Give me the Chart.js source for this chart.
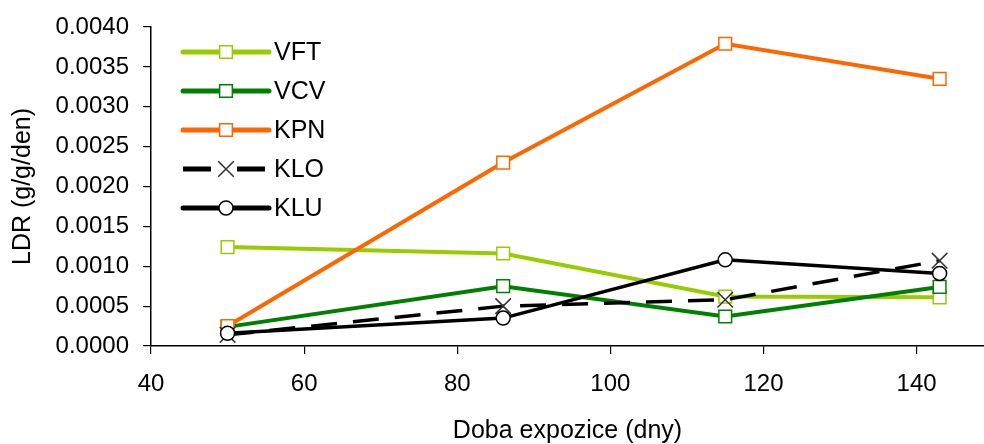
<!DOCTYPE html>
<html>
<head>
<meta charset="utf-8">
<script src="https://cdn.jsdelivr.net/npm/chart.js@4.4.1/dist/chart.umd.min.js"></script>
<style>
  html, body { margin: 0; background: #fff; }
  #wrap { width: 984px; height: 444px; }
</style>
</head>
<body>
<div id="wrap"><canvas id="ldr" width="984" height="444"></canvas></div>
<script>
/* ===== Data ===== */
const days = [50, 86, 115, 143];
const seriesNames = ['VFT', 'VCV', 'KPN', 'KLO', 'KLU'];
const vft = [0.00124, 0.00116, 0.00062, 0.00061];
const vcv = [0.00024, 0.00075, 0.00037, 0.00074];
const kpn = [0.00025, 0.00230, 0.00379, 0.00335];
const klo = [0.00014, 0.00050, 0.00058, 0.00107];
const klu = [0.00016, 0.00035, 0.00108, 0.00091];
const xTicks = [40, 60, 80, 100, 120, 140];
const yTicks = [0, 0.0005, 0.001, 0.0015, 0.002, 0.0025, 0.003, 0.0035, 0.004];

const FONT = '"Liberation Sans", Arial, sans-serif';
const pts = (vals)=> days.map((d,i)=> ({x:d, y:vals[i]}));

/* ===== Styles per series ===== */
function squareSeries(label, vals, color, order){
  return { label, data:pts(vals), borderColor:color, borderWidth:4, order,
    pointStyle:'rect', pointRadius:9, pointHoverRadius:9, pointBorderWidth:1.5,
    pointBorderColor:color, pointBackgroundColor:'#fff', clip:false };
}

const datasets = [
  squareSeries(seriesNames[0], vft, '#99cc00', 5),
  squareSeries(seriesNames[1], vcv, '#008000', 4),
  squareSeries(seriesNames[2], kpn, '#ff6600', 3),
  { label:seriesNames[3], data:pts(klo), borderColor:'#000', borderWidth:3.5, borderDash:[26,16], order:2,
    pointStyle:'crossRot', pointRadius:11, pointHoverRadius:11, pointBorderWidth:1.5,
    pointBorderColor:'#333', pointBackgroundColor:'#fff', clip:false },
  { label:seriesNames[4], data:pts(klu), borderColor:'#000', borderWidth:3.5, order:1,
    pointStyle:'circle', pointRadius:7, pointHoverRadius:7, pointBorderWidth:1.5,
    pointBorderColor:'#000', pointBackgroundColor:'#fff', clip:false },
];

/* ===== Legend drawn inside the plot ===== */
function drawMarker(ctx, ds, x, y){
  ctx.lineWidth = ds.pointBorderWidth;
  ctx.strokeStyle = ds.pointBorderColor;
  ctx.fillStyle = ds.pointBackgroundColor;
  ctx.beginPath();
  if (ds.pointStyle === 'rect'){
    const s = Math.SQRT1_2 * ds.pointRadius;
    ctx.rect(x-s, y-s, 2*s, 2*s);
    ctx.fill(); ctx.stroke();
  } else if (ds.pointStyle === 'circle'){
    ctx.arc(x, y, ds.pointRadius, 0, Math.PI*2);
    ctx.fill(); ctx.stroke();
  } else {
    const o = Math.SQRT1_2 * ds.pointRadius;
    ctx.moveTo(x-o, y-o); ctx.lineTo(x+o, y+o);
    ctx.moveTo(x-o, y+o); ctx.lineTo(x+o, y-o);
    ctx.stroke();
  }
}

const seriesKey = {
  id:'seriesKey',
  afterDatasetsDraw(chart){
    const {ctx, chartArea} = chart;
    const x0 = chartArea.left + 32, x1 = chartArea.left + 118, xm = (x0 + x1) / 2;
    chart.data.datasets.forEach((ds, i)=>{
      const y = chartArea.top + 25 + i * 39;
      ctx.save();
      ctx.strokeStyle = ds.borderColor;
      ctx.lineWidth = 5;
      ctx.lineCap = ds.borderDash ? 'butt' : 'round';
      ctx.setLineDash(ds.borderDash ? [28, 26] : []);
      ctx.beginPath(); ctx.moveTo(x0, y); ctx.lineTo(x1, y); ctx.stroke();
      ctx.setLineDash([]);
      drawMarker(ctx, ds, xm, y);
      ctx.fillStyle = '#000';
      ctx.font = '25px ' + FONT;
      ctx.textBaseline = 'middle';
      ctx.fillText(ds.label, x1 + 5, y + 1);
      ctx.restore();
    });
  }
};

/* ===== Chart ===== */
const axisCommon = {
  grid:{ drawOnChartArea:false, drawTicks:true, tickLength:8, color:'#000', lineWidth:1.2 },
  border:{ display:true, color:'#000', width:1.5 },
};

new Chart(document.getElementById('ldr').getContext('2d'), {
  type:'line',
  data:{ datasets },
  options:{
    responsive:false, animation:false, devicePixelRatio:1,
    layout:{ autoPadding:false, padding:{ top:27, right:0, left:0, bottom:0 } },
    plugins:{ legend:{ display:false }, tooltip:{ enabled:false } },
    elements:{ line:{ tension:0 } },
    scales:{
      x:{
        type:'linear', min:40, max:148.8,
        ...axisCommon,
        afterBuildTicks:(s)=>{ s.ticks = xTicks.map(v=>({value:v})); },
        afterFit:(s)=>{ s.height = 98; s.paddingLeft = 0; s.paddingRight = 0; },
        ticks:{ color:'#000', padding:16, font:{ family:FONT, size:24 }, maxRotation:0 },
        title:{ display:true, text:'Doba expozice (dny)', color:'#000', padding:{top:0, bottom:0},
                font:{ family:FONT, size:25, lineHeight:1 } }
      },
      y:{
        min:0, max:0.004,
        ...axisCommon,
        afterBuildTicks:(s)=>{ s.ticks = yTicks.map(v=>({value:v})); },
        afterFit:(s)=>{ s.width = 151; s.paddingTop = 0; s.paddingBottom = 0; },
        ticks:{ color:'#000', padding:14, font:{ family:FONT, size:24 }, callback:(v)=> Number(v).toFixed(4) },
        title:{ display:true, text:'LDR (g/g/den)', color:'#000', padding:{top:11, bottom:0},
                font:{ family:FONT, size:25, lineHeight:1 } }
      }
    }
  },
  plugins:[seriesKey]
});
</script>
</body>
</html>
